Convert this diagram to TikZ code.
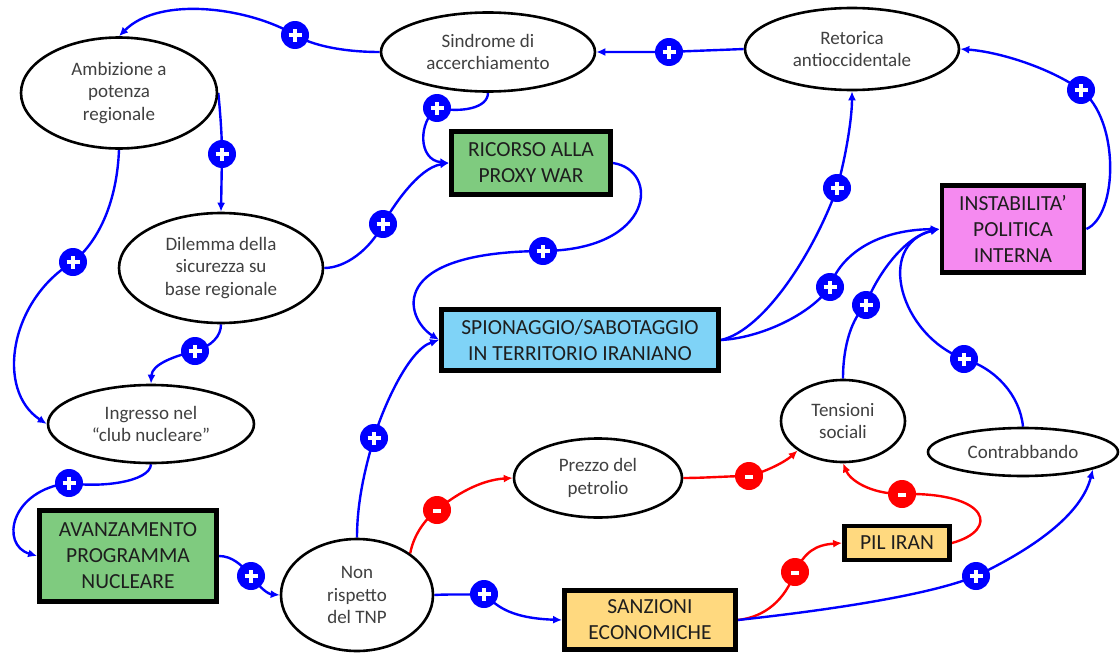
\documentclass[tikz,border=0pt]{standalone}
\usepackage{fontspec}
\setmainfont{Carlito}
\usetikzlibrary{shapes.geometric,arrows.meta}
\pgfdeclarelayer{background}
\pgfsetlayers{background,main}
\definecolor{ovaltext}{RGB}{64,64,64}
\definecolor{boxtext}{RGB}{30,30,30}
\definecolor{nucgreen}{RGB}{127,203,127}
\definecolor{spyblue}{RGB}{127,211,247}
\definecolor{instpink}{RGB}{245,138,240}
\definecolor{econgold}{RGB}{255,217,127}
\definecolor{linkblue}{RGB}{0,0,255}
\definecolor{linkred}{RGB}{255,0,0}
\begin{document}
\begin{tikzpicture}[x=1pt,y=-1pt,
  oval/.style={ellipse, draw=black, line width=2.6pt, fill=white, inner sep=0pt,
    align=center, text=ovaltext, font=\fontsize{19}{22.5}\selectfont},
  block/.style={rectangle, draw=black, line width=4.8pt, inner sep=0pt,
    align=center, text=boxtext, font=\fontsize{21.5}{26}\selectfont},
  possign/.style={circle, fill=linkblue, minimum size=28pt, inner sep=0pt,
    path picture={\draw[white,line width=3.6pt]
      ([xshift=-6.5pt]path picture bounding box.center) -- ([xshift=6.5pt]path picture bounding box.center)
      ([yshift=-6.5pt]path picture bounding box.center) -- ([yshift=6.5pt]path picture bounding box.center);}},
  negsign/.style={circle, fill=linkred, minimum size=28pt, inner sep=0pt,
    path picture={\draw[white,line width=4.5pt]
      ([xshift=-4pt,yshift=-1pt]path picture bounding box.center) -- ([xshift=4pt,yshift=-1pt]path picture bounding box.center);}},
  poslink/.style={draw=linkblue, line width=2.4pt, -{Latex[length=9pt,width=8pt]}},
  neglink/.style={draw=linkred, line width=2.4pt, -{Latex[length=9pt,width=8pt]}},
]
\useasboundingbox (0,0) rectangle (1120,653);
\begin{pgfonlayer}{background}
  \fill[white] (0,0) rectangle (1120,653);
\end{pgfonlayer}

% ---- variables (ovals) ----
\node[oval, minimum width=196pt, minimum height=111pt] (amb) at (119,93) {Ambizione a\\potenza\\regionale};
\node[oval, minimum width=214pt, minimum height=79pt] (sin) at (488,52) {Sindrome di\\accerchiamento};
\node[oval, minimum width=214pt, minimum height=82pt] (ret) at (852,49) {Retorica\\antioccidentale};
\node[oval, minimum width=204pt, minimum height=110pt] (dil) at (221,268) {Dilemma della\\sicurezza su\\base regionale};
\node[oval, minimum width=206pt, minimum height=78pt] (ing) at (151,424) {Ingresso nel\\“club nucleare”};
\node[oval, minimum width=152pt, minimum height=112pt] (non) at (357,595) {Non\\rispetto\\del TNP};
\node[oval, minimum width=168pt, minimum height=79pt] (pre) at (598,478) {Prezzo del\\petrolio};
\node[oval, minimum width=124pt, minimum height=82pt] (ten) at (843,421) {Tensioni\\sociali};
\node[oval, minimum width=190pt, minimum height=48pt] (con) at (1023,452) {Contrabbando};

% ---- key factors (boxes) ----
\node[block, fill=nucgreen, minimum width=159pt, minimum height=63pt] (ric) at (531,163) {RICORSO ALLA\\PROXY WAR};
\node[block, fill=spyblue, minimum width=277pt, minimum height=61pt] (spi) at (580,340) {SPIONAGGIO/SABOTAGGIO\\IN TERRITORIO IRANIANO};
\node[block, fill=instpink, minimum width=142pt, minimum height=87pt] (ins) at (1013,229) {INSTABILITA’\\POLITICA\\INTERNA};
\node[block, fill=nucgreen, minimum width=177pt, minimum height=91pt] (ava) at (128,556) {AVANZAMENTO\\PROGRAMMA\\NUCLEARE};
\node[block, fill=econgold, minimum width=171pt, minimum height=59pt] (san) at (650,620) {SANZIONI\\ECONOMICHE};
\node[block, fill=econgold, minimum width=105pt, minimum height=34pt] (pil) at (897,543) {PIL IRAN};

% ---- polarity markers ----
\node[possign] (s1) at (295,35) {};
\node[possign] (s2) at (669,52) {};
\node[possign] (s3) at (437,108) {};
\node[possign] (s4) at (222,154) {};
\node[possign] (s5) at (73,262) {};
\node[possign] (s6) at (383,224) {};
\node[possign] (s7) at (195,351) {};
\node[possign] (s8) at (69,483) {};
\node[possign] (s9) at (251,576) {};
\node[possign] (s10) at (374,438) {};
\node[possign] (s11) at (543,251) {};
\node[possign] (s12) at (837,188) {};
\node[possign] (s13) at (830,287) {};
\node[possign] (s14) at (866,305) {};
\node[possign] (s15) at (964,359) {};
\node[possign] (s16) at (1081,90) {};
\node[negsign] (s17) at (437,510) {};
\node[negsign] (s18) at (749,476) {};
\node[possign] (s19) at (484,594) {};
\node[negsign] (s20) at (795,572) {};
\node[negsign] (s21) at (902,494) {};
\node[possign] (s22) at (976,576) {};

% ---- causal links ----
\begin{pgfonlayer}{background}
\path[poslink] (sin.west) .. controls (345,52) and (313,46) .. (s1.center) .. controls (250,8) and (160,-5) .. (amb.north);
\path[poslink] (ret.west) .. controls (720,50) and (690,51) .. (s2.center) .. controls (645,52) and (620,52) .. (sin.east);
\path[poslink] (sin.south) .. controls (488,108) and (462,113) .. (s3.center) .. controls (418,122) and (418,160) .. (ric.west);
\path[poslink] (amb.east) .. controls (220,110) and (222,135) .. (s4.center) -- (dil.north);
\path[poslink] (amb.south) .. controls (117,200) and (100,240) .. (s5.center) .. controls (10,300) and (-5,390) .. (ing.west);
\path[poslink] (dil.east) .. controls (345,268) and (370,250) .. (s6.center) .. controls (392,208) and (418,168) .. (ric.west);
\path[poslink] (dil.south) .. controls (221,336) and (212,346) .. (s7.center) .. controls (175,356) and (152,364) .. (ing.north);
\path[poslink] (ing.south) .. controls (150,482) and (100,488) .. (s8.center) .. controls (10,490) and (0,545) .. (ava.west);
\path[poslink] (ava.east) .. controls (232,556) and (242,565) .. (s9.center) .. controls (260,588) and (268,594) .. (non.west);
\path[poslink] (non.north) .. controls (357,500) and (366,465) .. (s10.center) .. controls (382,410) and (408,350) .. (spi.west);
\path[poslink] (ric.east) .. controls (660,170) and (655,250) .. (s11.center) .. controls (385,252) and (405,318) .. (spi.west);
\path[poslink] (spi.east) .. controls (765,330) and (815,250) .. (s12.center) .. controls (845,160) and (852,120) .. (ret.south);
\path[poslink] (spi.east) .. controls (760,338) and (810,315) .. (s13.center) .. controls (838,260) and (870,230) .. (ins.west);
\path[poslink] (ten.north) .. controls (843,345) and (852,318) .. (s14.center) .. controls (872,285) and (900,238) .. (ins.west);
\path[poslink] (con.north) .. controls (1020,395) and (995,368) .. (s15.center) .. controls (900,335) and (875,245) .. (ins.west);
\path[poslink] (ins.east) .. controls (1118,215) and (1120,120) .. (s16.center) .. controls (1050,68) and (1000,52) .. (ret.east);
\path[neglink] (non.38) .. controls (413,538) and (422,522) .. (s17.center) .. controls (455,495) and (480,480) .. (pre.west);
\path[neglink] (pre.east) .. controls (705,478) and (730,476) .. (s18.center) .. controls (765,472) and (785,462) .. (ten.213);
\path[poslink] (non.east) .. controls (450,594) and (465,595) .. (s19.center) .. controls (495,603) and (505,618) .. (san.west);
\path[neglink] (san.east) .. controls (765,617) and (785,600) .. (s20.center) .. controls (805,552) and (815,545) .. (pil.west);
\path[neglink] (pil.east) .. controls (1000,530) and (990,492) .. (s21.center) .. controls (870,494) and (850,480) .. (ten.south);
\path[poslink] (san.east) .. controls (830,610) and (930,595) .. (s22.center) .. controls (1020,555) and (1080,520) .. (con.346);
\end{pgfonlayer}
\end{tikzpicture}
\end{document}
